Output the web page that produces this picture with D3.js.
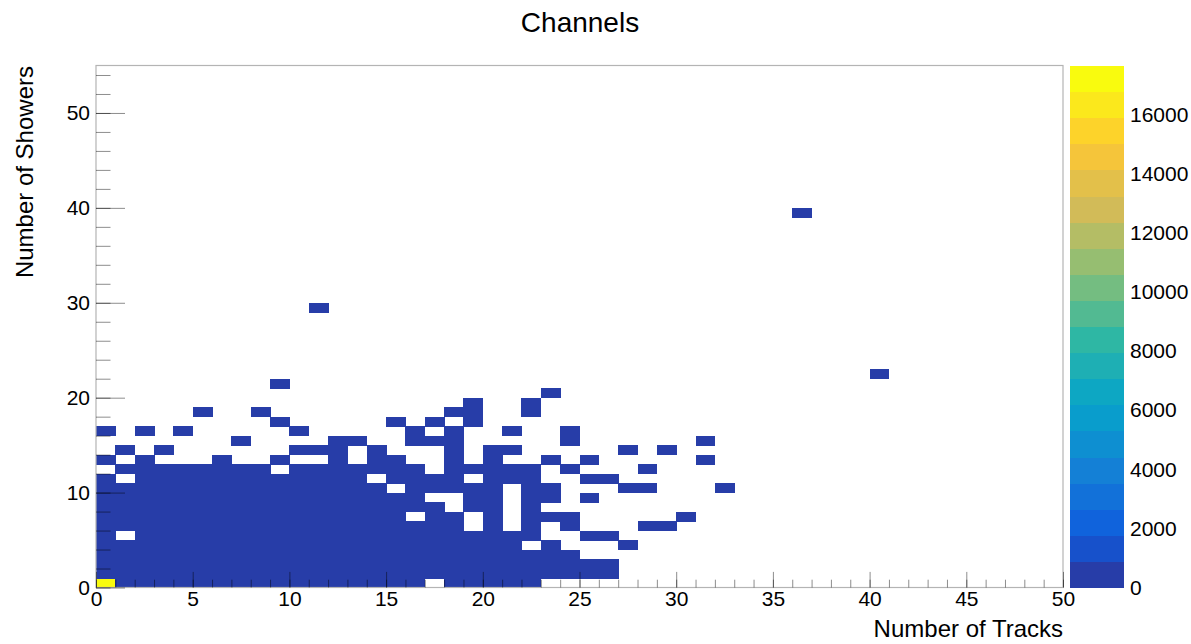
<!DOCTYPE html>
<html>
<head>
<meta charset="utf-8">
<script src="https://cdn.jsdelivr.net/npm/d3@7"></script>
<style>
  body { margin: 0; background: #fff; }
  svg text { font-family: "Liberation Sans", Arial, Helvetica, sans-serif; fill: #000; }
</style>
</head>
<body>
<script>
// axis ranges of the histogram
const trackRange = [0, 50]
const showerRange = [0, 55]
const xMajorTicks = [0, 5, 10, 15, 20, 25, 30, 35, 40, 45, 50]
const yMajorTicks = [0, 10, 20, 30, 40, 50]
const zTicks = [0, 2000, 4000, 6000, 8000, 10000, 12000, 14000, 16000]
const zMax = 17660 // content of the (0,0) bin
const nLevels = 20

// filled bins, one string per shower bin (row 0 = 0 showers), '#' = filled track bin
const rowMasks = [
  '#################.#####',
  '###########################',
  '###########################',
  '#########################',
  '######################.#...#',
  '#.#####################..##',
  '###################.#.#.#...##',
  '################.##.#.###.....#',
  '##################.##.#',
  '#################..##.##.#',
  '###############.#####.##...##...#',
  '#.############.####.###..##',
  '.########.#######.#####.#...#',
  '#.#...#..#..#.##..#.#..#.#.....#',
  '.#.#......###.#...#.##.....#.#',
  '.......#....##..###.....#......#',
  '#.#.#.....#.....#.#..#..#',
  '.........#.....#.#.#',
  '.....#..#.........##..#'
]
// rough content of a typical filled bin per row (all below the first colour level)
const rowCounts = [640, 520, 430, 360, 300, 250, 210, 180, 150, 120, 100, 80, 60, 40, 30, 20, 15, 10, 8]
// isolated bins [tracks, showers, content]
const strayBins = [[19, 19, 5], [22, 19, 5], [23, 20, 3], [9, 21, 3], [40, 22, 1], [11, 29, 1], [36, 39, 1]]

// kBird palette stops
const birdStops = [0, 0.125, 0.25, 0.375, 0.5, 0.625, 0.75, 0.875, 1]
const birdColors = ['#352a87', '#0f5cdd', '#1481d6', '#06a4ca', '#2eb7a4', '#87bf77', '#d1bb59', '#fec832', '#f9fb0e']

const W = 1191, H = 644
const svg = d3.select('body').append('svg').attr('width', W).attr('height', H)

const x = d3.scaleLinear().domain(trackRange).range([96, 1063])
const y = d3.scaleLinear().domain(showerRange).range([587.5, 65.5])
const z = d3.scaleLinear().domain([0, zMax]).range([587.5, 65.5])

const bird = d3.scaleLinear().domain(birdStops).range(birdColors).interpolate(d3.interpolateRgb)
// ROOT picks one of 255 palette colours per contour level
const levelColors = d3.range(nLevels).map(i => bird(Math.floor((i + 0.99) * 255 / nLevels) / 254))
const colorOf = d3.scaleQuantize().domain([0, zMax]).range(levelColors)

// build bin list
const bins = []
rowMasks.forEach((mask, row) => {
  mask.split('').forEach((c, col) => {
    if (c === '#') bins.push({ tx: col, sh: row, n: (col === 0 && row === 0) ? zMax : rowCounts[row] })
  })
})
strayBins.forEach(d => bins.push({ tx: d[0], sh: d[1], n: d[2] }))

// cells, drawn crisp so neighbouring cells show no seams
svg.append('g').attr('shape-rendering', 'crispEdges').selectAll('rect')
  .data(bins)
  .join('rect')
    .attr('x', d => x(d.tx))
    .attr('y', d => y(d.sh + 1))
    .attr('width', d => x(d.tx + 1) - x(d.tx) + 0.5)
    .attr('height', d => y(d.sh) - y(d.sh + 1) + 0.5)
    .attr('fill', d => colorOf(d.n))

// frame
svg.append('rect')
  .attr('x', 96).attr('y', 65.5)
  .attr('width', 1063 - 96).attr('height', 587.5 - 65.5)
  .attr('fill', 'none').attr('stroke', '#b4b4b4').attr('stroke-width', 1.2)

const tickStroke = 'rgba(0,0,0,0.45)'
function styleAxis(g) {
  g.select('.domain').remove()
  g.selectAll('line').attr('stroke', tickStroke)
  g.selectAll('text').style('font-size', '21px').attr('fill', '#000')
}

// x axis: major and minor ticks pointing into the frame
svg.append('g').attr('transform', 'translate(0,587.5)')
  .call(d3.axisBottom(x).tickValues(d3.range(0, 51, 1)).tickSize(-7.8).tickFormat(''))
  .call(styleAxis)
svg.append('g').attr('transform', 'translate(0,587.5)')
  .call(d3.axisBottom(x).tickValues(xMajorTicks).tickSize(-15.6).tickPadding(4).tickFormat(d3.format('d')))
  .call(styleAxis)

// y axis
svg.append('g').attr('transform', 'translate(96,0)')
  .call(d3.axisLeft(y).tickValues(d3.range(0, 56, 2)).tickSize(-14.5).tickFormat(''))
  .call(styleAxis)
svg.append('g').attr('transform', 'translate(96,0)')
  .call(d3.axisLeft(y).tickValues(yMajorTicks).tickSize(-29).tickPadding(6).tickFormat(d3.format('d')))
  .call(styleAxis)

// colour bar
const barX0 = 1070, barX1 = 1124
svg.append('g').attr('shape-rendering', 'crispEdges').selectAll('rect')
  .data(levelColors)
  .join('rect')
    .attr('x', barX0)
    .attr('width', barX1 - barX0)
    .attr('y', (c, i) => z((i + 1) * zMax / nLevels))
    .attr('height', (c, i) => z(i * zMax / nLevels) - z((i + 1) * zMax / nLevels) + 0.5)
    .attr('fill', c => c)

// the palette labels are cut by the pad edge
svg.append('clipPath').attr('id', 'padClip')
  .append('rect').attr('x', 0).attr('y', 0).attr('width', 1184).attr('height', H)

svg.append('g').attr('transform', `translate(${barX1},0)`)
  .attr('clip-path', 'url(#padClip)')
  .call(d3.axisRight(z).tickValues(zTicks).tickSize(-29).tickPadding(6).tickFormat(d3.format('d')))
  .call(styleAxis)

// titles
svg.append('text')
  .attr('x', 580).attr('y', 32)
  .attr('text-anchor', 'middle')
  .style('font-size', '28px')
  .text('Channels')

svg.append('text')
  .attr('x', 1063).attr('y', 637)
  .attr('text-anchor', 'end')
  .style('font-size', '24px')
  .text('Number of Tracks')

svg.append('text')
  .attr('transform', 'translate(33,66) rotate(-90)')
  .attr('text-anchor', 'end')
  .style('font-size', '24px')
  .text('Number of Showers')
</script>
</body>
</html>
